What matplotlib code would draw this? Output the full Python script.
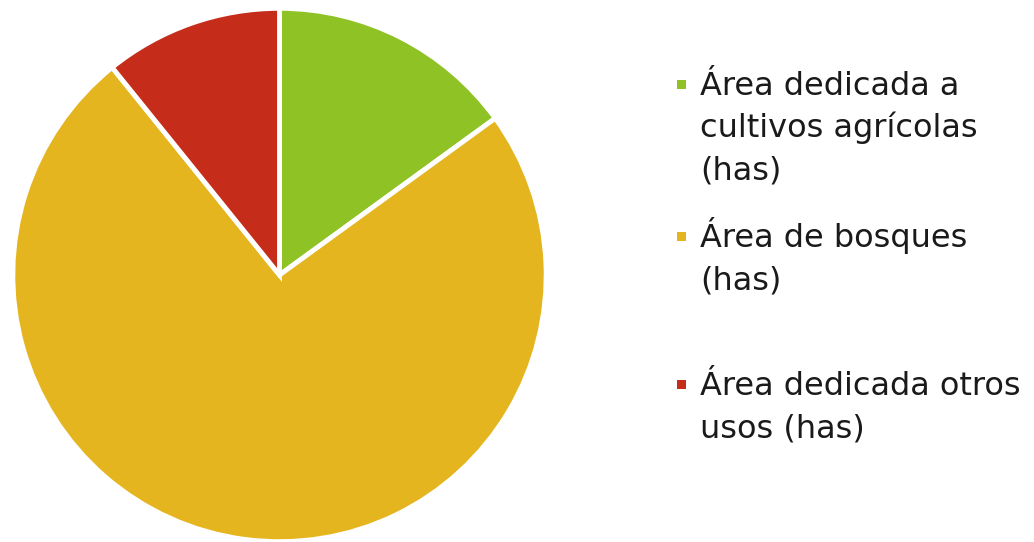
import matplotlib
matplotlib.use('Agg')
import matplotlib.pyplot as plt
from matplotlib.patches import Rectangle

# data (shares, in %)
labels = ['Área dedicada a\ncultivos agrícolas\n(has)',
          'Área de bosques\n(has)',
          'Área dedicada otros\nusos (has)']
values = [15.0, 74.2, 10.8]
colors = ['#8fc225', '#e4b51f', '#c52d1a']

W, H = 1034, 542
fig = plt.figure(figsize=(W / 100, H / 100), dpi=100)

# pie axes: centre (279.5, 275) px, radius 268 px
cx, cy, r = 279.5, 275, 268
ax = fig.add_axes([(cx - r) / W, (H - cy - r) / H, 2 * r / W, 2 * r / H])
ax.pie(values, colors=colors, startangle=90, counterclock=False, radius=1,
       wedgeprops=dict(edgecolor='white', linewidth=3.5))
ax.set_xlim(-1.005, 1.005)
ax.set_ylim(-1.005, 1.005)
ax.set_aspect('equal')
ax.axis('off')

# legend drawn by hand: baseline of first line of each entry (px from top)
baselines = [95, 247, 395]
line_gap = 42.5
for lab, col, by in zip(labels, colors, baselines):
    fig.add_artist(Rectangle((677 / W, 1 - (by - 6) / H), 9 / W, 9 / H,
                             transform=fig.transFigure, facecolor=col,
                             edgecolor='none'))
    for k, line in enumerate(lab.split('\n')):
        fig.text(700 / W, 1 - (by + k * line_gap) / H, line, ha='left',
                 va='baseline', fontsize=23, color='#1a1a1a',
                 family='DejaVu Sans')

fig.savefig('out.png', dpi=100)
